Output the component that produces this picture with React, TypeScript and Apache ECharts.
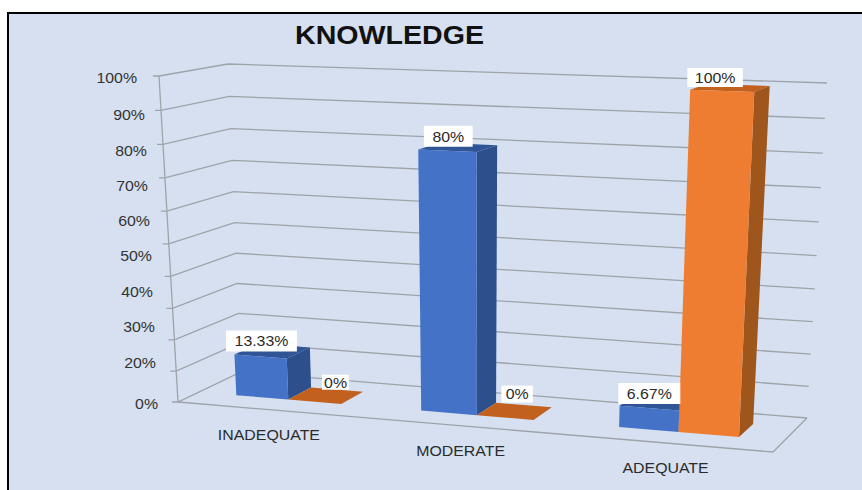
import React, { useEffect, useRef } from "react";
import * as echarts from "echarts";

const titleText = "KNOWLEDGE";
const categories = ["INADEQUATE", "MODERATE", "ADEQUATE"];
const blueValues = [13.33, 80, 6.67];
const orangeValues = [0, 0, 100];
const blueLabels = ["13.33%", "80%", "6.67%"];
const orangeLabels = ["0%", "0%", "100%"];
const gridValues = [0, 10, 20, 30, 40, 50, 60, 70, 80, 90, 100];
const yTickLabels = ["100%", "90%", "80%", "70%", "60%", "50%", "40%", "30%", "20%", "0%"];

// Layout of the hand-placed axis labels (right edge, middle), top to bottom
const yLabelSlots = [
  [137, 78], [145, 115], [147, 151], [148, 186], [150, 221],
  [152, 256], [153, 292], [155, 327], [156, 363], [158, 404],
];

const FONT = '"Liberation Sans", Arial, sans-serif';
const BG = "#D6E0F1";
const LINE = "#9EA3A9";
const INK = "#2B2B2B";
const STRETCH = 1.06;

const GX = 100, GY = 100, GW = 600, GH = 300;

// 3D box of the chart, as its eight corners on screen
const floorFL = [178, 402], floorFR = [773, 452], floorBL = [241, 372], floorBR = [807, 418];
const topFL = [159, 76], topFR = [790, 99], topBL = [228, 64], topBR = [827, 83];

const mix = (a: number[], b: number[], t: number) => [a[0] + (b[0] - a[0]) * t, a[1] + (b[1] - a[1]) * t];

// u: across (0..1), d: depth (0 front..1 back), w: height (0..1); perspective eases u and w
function project(u: number, d: number, w: number) {
  const us = u * (0.9 + 0.1 * u);
  const ws = w * (0.94 + 0.06 * w);
  const floor = mix(mix(floorFL, floorFR, us), mix(floorBL, floorBR, us), d);
  const top = mix(mix(topFL, topFR, us), mix(topBL, topBR, us), d);
  return mix(floor, top, ws);
}

const toU = (px: number) => (px - GX) / GW;
const toW = (py: number) => (GY + GH - py) / GH;

const BAR_W = 0.096;
const D0 = 0.33, D1 = 0.72;

function barSeries(
  values: number[], slot: number, front: string, side: string, top: string,
) {
  return {
    type: "custom",
    coordinateSystem: "cartesian2d",
    z: 3,
    silent: true,
    data: values.map((v, i) => [i, v]),
    renderItem: (_: any, api: any) => {
      const c = api.coord([api.value(0), api.value(1)]);
      const u = toU(c[0]);
      const w = toW(c[1]);
      const u0 = u + (slot - 1) * BAR_W;
      const u1 = u0 + BAR_W;
      const pts = (list: number[][]) => list.map((p) => project(p[0], p[1], p[2]));
      const children: any[] = [
        { type: "polygon", shape: { points: pts([[u0, D0, w], [u1, D0, w], [u1, D1, w], [u0, D1, w]]) }, style: { fill: top } },
      ];
      if (w > 0) {
        children.push(
          { type: "polygon", shape: { points: pts([[u1, D0, 0], [u1, D1, 0], [u1, D1, w], [u1, D0, w]]) }, style: { fill: side } },
          { type: "polygon", shape: { points: pts([[u0, D0, 0], [u1, D0, 0], [u1, D0, w], [u0, D0, w]]) }, style: { fill: front } },
        );
      }
      return { type: "group", children };
    },
  };
}

function labelSeries(
  values: number[], labels: string[], slot: number,
  nudges: number[][], paddings: number[][],
) {
  return {
    type: "custom",
    coordinateSystem: "cartesian2d",
    z: 6,
    silent: true,
    data: values.map((v, i) => [i, v]),
    renderItem: (params: any, api: any) => {
      const c = api.coord([api.value(0), api.value(1)]);
      const u = toU(c[0]);
      const w = toW(c[1]);
      const um = u + (slot - 0.5) * BAR_W;
      const p = project(um, D0, w);
      const n = nudges[params.dataIndex];
      return {
        type: "text",
        x: p[0] + n[0],
        y: p[1] + n[1],
        scaleX: STRETCH,
        style: {
          text: labels[params.dataIndex],
          fill: INK,
          fontFamily: FONT,
          fontSize: 15,
          align: "center",
          verticalAlign: "bottom",
          backgroundColor: "#FFFFFF",
          padding: paddings[params.dataIndex],
        },
      };
    },
  };
}

export default function App() {
  const ref = useRef<HTMLDivElement>(null);
  useEffect(() => {
    document.body.style.margin = "0";
    const chart = echarts.init(ref.current!, undefined, { renderer: "svg" });
    chart.setOption({
      animation: false,
      backgroundColor: "#FFFFFF",
      grid: { left: GX, top: GY, width: GW, height: GH, show: false },
      xAxis: { type: "category", data: categories, show: false },
      yAxis: { type: "value", min: 0, max: 100, interval: 10, show: false },
      graphic: [
        {
          type: "rect",
          silent: true,
          z: -10,
          shape: { x: 8, y: 13, width: 900, height: 520 },
          style: { fill: BG, stroke: "#000000", lineWidth: 2 },
        },
        {
          type: "text",
          silent: true,
          x: 295,
          y: 35,
          scaleX: 1.1,
          style: {
            text: titleText, fill: "#111111", fontFamily: FONT, fontSize: 26, fontWeight: "bold",
            align: "left", verticalAlign: "middle",
          },
        },
        ...yTickLabels.map((t, i) => ({
          type: "text",
          silent: true,
          x: yLabelSlots[i][0],
          y: yLabelSlots[i][1],
          scaleX: STRETCH,
          style: {
            text: t, fill: "#333333", fontFamily: FONT, fontSize: 15,
            align: "right", verticalAlign: "middle",
          },
        })),
      ],
      series: [
        {
          // walls and floor
          type: "custom",
          coordinateSystem: "cartesian2d",
          z: 1,
          silent: true,
          data: gridValues.map((v) => [0, v]),
          renderItem: (params: any, api: any) => {
            const w = toW(api.coord([0, api.value(1)])[1]);
            const a = project(0, 0, w);
            const style = { stroke: LINE, lineWidth: 1.3, fill: "none" };
            const children: any[] = [
              { type: "polyline", shape: { points: [[a[0] - 6, a[1]], a, project(0, 1, w), project(1, 1, w)] }, style },
            ];
            if (params.dataIndex === 0) {
              children.push(
                { type: "polyline", shape: { points: [project(0, 0, 1), a] }, style },
                { type: "polyline", shape: { points: [a, project(1, 0, 0), project(1, 1, 0)] }, style },
              );
            }
            return { type: "group", children };
          },
        },
        barSeries(blueValues, 0, "#4472C6", "#2D4F8C", "#2F5597"),
        barSeries(orangeValues, 1, "#EF7D31", "#9E561C", "#C2601E"),
        labelSeries(blueValues, blueLabels, 0, [[1, -5], [1, -4], [0, -4]], [[3, 8], [3, 8], [3, 8]]),
        labelSeries(orangeValues, orangeLabels, 1, [[21, -12], [12, -15], [-7, -4]], [[0, 2], [1, 4], [2, 7]]),
        {
          // category labels under the floor's front edge
          type: "custom",
          coordinateSystem: "cartesian2d",
          z: 2,
          silent: true,
          data: categories.map((_, i) => [i, 0]),
          renderItem: (params: any, api: any) => {
            const c = api.coord([api.value(0), 0]);
            const p = project(toU(c[0]), 0, 0);
            return {
              type: "text",
              x: p[0],
              y: p[1] + 25,
              scaleX: STRETCH,
              style: {
                text: categories[params.dataIndex], fill: INK, fontFamily: FONT, fontSize: 15,
                align: "center", verticalAlign: "middle",
              },
            };
          },
        },
      ],
    });
    return () => chart.dispose();
  }, []);
  return <div ref={ref} style={{ position: "absolute", left: 0, top: 0, width: 862, height: 490 }} />;
}
